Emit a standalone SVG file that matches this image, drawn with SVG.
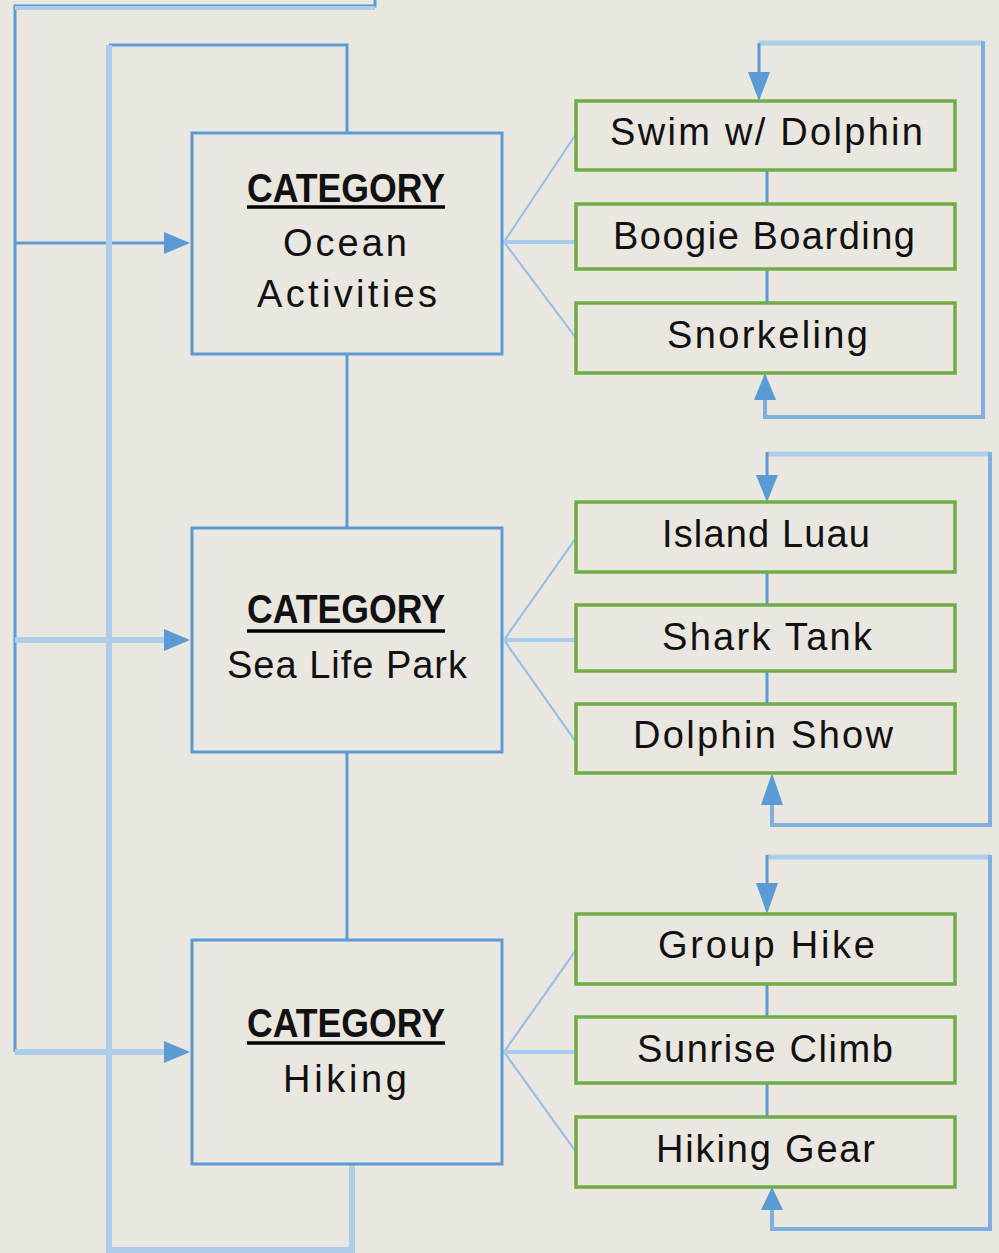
<svg xmlns="http://www.w3.org/2000/svg" width="999" height="1253" viewBox="0 0 999 1253">
<style>
.bg{fill:#EAE6E0}
.cat{fill:none;stroke:#5B9BD5;stroke-width:3}
.item{fill:none;stroke:#70AD47;stroke-width:3.5}
.dk{fill:none;stroke:#5B9BD5;stroke-width:3}
.lt{fill:none;stroke:#AECDEB;stroke-width:6}
.md{fill:none;stroke:#7DB0E0;stroke-width:4}
.fan{fill:none;stroke:#93BDE6;stroke-width:2}
.fanm{fill:none;stroke:#A8CAEC;stroke-width:4}
.ah{fill:#5B9BD5}
text{font-family:"Liberation Sans",Arial,sans-serif;fill:#111;font-size:38px}
.h{font-weight:bold;font-size:40px}
.ul{stroke:#000;stroke-width:3.5}
</style>
<rect class="bg" x="0" y="0" width="999" height="1253"/>
<g id="connectors">
  <!-- outer left feed -->
  <path class="dk" d="M375,0 V6 H15 V1052"/>
  <path class="lt" d="M15,8 H375" style="stroke-width:4"/>
  <path class="dk" d="M15,243 H168"/>
  <path class="lt" d="M15,640 H168"/>
  <path class="lt" d="M15,1052 H168"/>
  <!-- inner loop -->
  <path class="dk" d="M347,133 V45 H109"/>
  <path class="lt" d="M109,45 V1250 H352 V1164"/>
  <!-- category chain -->
  <path class="dk" d="M347,354 V528"/>
  <path class="dk" d="M347,752 V940"/>
  <!-- fans group 1 -->
  <path class="fan" d="M504,242 L576,134 M504,242 L576,338"/>
  <path class="fanm" d="M504,242 H576"/>
  <path class="fan" d="M504,640 L576,538 M504,640 L576,742"/>
  <path class="fanm" d="M504,640 H576"/>
  <path class="fan" d="M504,1052 L576,950 M504,1052 L576,1152"/>
  <path class="fanm" d="M504,1052 H576"/>
  <!-- item chains -->
  <path class="dk" d="M767,170 V204 M767,269 V303"/>
  <path class="dk" d="M767,572 V605 M767,671 V704"/>
  <path class="dk" d="M767,984 V1017 M767,1083 V1117"/>
  <!-- right loops -->
  <path class="lt" d="M759,43 H983" style="stroke-width:5"/>
  <path class="dk" d="M759,43 V76"/>
  <path class="md" d="M983,41 V417 H765 V392"/>
  <path class="lt" d="M767,454 H990" style="stroke-width:5"/>
  <path class="dk" d="M767,452 V480"/>
  <path class="md" d="M990,452 V825 H772 V800"/>
  <path class="lt" d="M767,857 H990" style="stroke-width:5"/>
  <path class="dk" d="M767,855 V885"/>
  <path class="md" d="M990,855 V1229 H772 V1204"/>
  <!-- arrowheads -->
  <path class="ah" d="M190,243 L164,232 L164,254 Z"/>
  <path class="ah" d="M190,640 L164,629 L164,651 Z"/>
  <path class="ah" d="M190,1052 L164,1041 L164,1063 Z"/>
  <path class="ah" d="M759,101 L748,72 L770,72 Z"/>
  <path class="ah" d="M765,373 L754,400 L776,400 Z"/>
  <path class="ah" d="M767,502 L756,475 L778,475 Z"/>
  <path class="ah" d="M772,773 L761,805 L783,805 Z"/>
  <path class="ah" d="M767,914 L756,883 L778,883 Z"/>
  <path class="ah" d="M772,1187 L761,1210 L783,1210 Z"/>
</g>
<g id="cat-ocean">
  <rect class="cat" x="192" y="133" width="310" height="221"/>
  <text class="h" x="247" y="202" textLength="198" lengthAdjust="spacingAndGlyphs">CATEGORY</text>
  <line class="ul" x1="247" y1="207" x2="445" y2="207"/>
  <text x="283" y="256" textLength="124">Ocean</text>
  <text x="257" y="307" textLength="180">Activities</text>
</g>
<g id="cat-sealife">
  <rect class="cat" x="192" y="528" width="310" height="224"/>
  <text class="h" x="247" y="623" textLength="198" lengthAdjust="spacingAndGlyphs">CATEGORY</text>
  <line class="ul" x1="247" y1="631" x2="445" y2="631"/>
  <text x="227" y="678" textLength="240">Sea Life Park</text>
</g>
<g id="cat-hiking">
  <rect class="cat" x="192" y="940" width="310" height="224"/>
  <text class="h" x="247" y="1037" textLength="198" lengthAdjust="spacingAndGlyphs">CATEGORY</text>
  <line class="ul" x1="247" y1="1043" x2="445" y2="1043"/>
  <text x="283" y="1092" textLength="124">Hiking</text>
</g>
<g id="item-swim"><rect class="item" x="576" y="101" width="379" height="69"/><text x="610" y="145" textLength="313">Swim w/ Dolphin</text></g>
<g id="item-boogie"><rect class="item" x="576" y="204" width="379" height="65"/><text x="613" y="249" textLength="302">Boogie Boarding</text></g>
<g id="item-snorkel"><rect class="item" x="576" y="303" width="379" height="70"/><text x="667" y="348" textLength="201">Snorkeling</text></g>
<g id="item-luau"><rect class="item" x="576" y="502" width="379" height="70"/><text x="662" y="547" textLength="208">Island Luau</text></g>
<g id="item-shark"><rect class="item" x="576" y="605" width="379" height="66"/><text x="662" y="650" textLength="210">Shark Tank</text></g>
<g id="item-dolphinshow"><rect class="item" x="576" y="704" width="379" height="69"/><text x="633" y="748" textLength="260">Dolphin Show</text></g>
<g id="item-grouphike"><rect class="item" x="576" y="914" width="379" height="70"/><text x="658" y="958" textLength="217">Group Hike</text></g>
<g id="item-sunrise"><rect class="item" x="576" y="1017" width="379" height="66"/><text x="637" y="1062" textLength="256">Sunrise Climb</text></g>
<g id="item-gear"><rect class="item" x="576" y="1117" width="379" height="70"/><text x="656" y="1162" textLength="219">Hiking Gear</text></g>
</svg>
